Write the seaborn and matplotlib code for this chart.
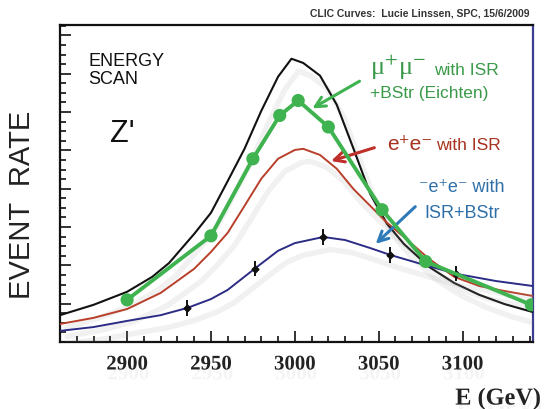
import matplotlib
matplotlib.use("Agg")
import matplotlib.pyplot as plt
import matplotlib.patheffects as pe
from matplotlib.ticker import MultipleLocator
import seaborn as sns

# --- DATA (event rate in arbitrary units) ---
black_e = [2860, 2880, 2900, 2915, 2925, 2940, 2950, 2960, 2970, 2980, 2990, 2998,
           3005, 3015, 3025, 3035, 3045, 3055, 3065, 3080, 3095, 3110, 3125, 3142]
black_rate = [7.0, 9.7, 13.1, 17.0, 20.6, 28.2, 33.7, 42.0, 50.4, 60.3, 69.2, 73.9,
              72.8, 69.5, 61.9, 50.4, 38.6, 30.8, 25.6, 19.6, 15.4, 12.3, 9.9, 7.8]

red_e = [2860, 2880, 2900, 2920, 2940, 2950, 2960, 2970, 2980, 2990, 3000, 3005,
         3015, 3025, 3035, 3045, 3055, 3065, 3080, 3095, 3110, 3125, 3142]
red_rate = [4.7, 6.3, 8.6, 12.8, 19.1, 23.5, 28.5, 35.5, 42.6, 47.8, 50.1, 50.4,
            48.8, 45.2, 39.9, 35.5, 31.1, 27.4, 21.7, 17.0, 14.6, 13.3, 12.0]

blue_e = [2860, 2880, 2900, 2920, 2936, 2950, 2960, 2976, 2990, 3000, 3017, 3030,
          3045, 3057, 3075, 3096, 3120, 3142]
blue_rate = [2.9, 3.9, 5.5, 7.0, 8.9, 11.2, 13.6, 19.1, 23.8, 25.8, 27.4, 26.6,
             24.5, 22.7, 20.4, 17.8, 15.9, 14.6]

# measured points on the blue curve
pts_e = [2936, 2976, 3017, 3057, 3096]
pts_rate = [8.9, 19.1, 27.4, 22.7, 17.8]
pts_err = [2.0, 2.0, 2.0, 2.0, 2.0]

# mu+mu- with ISR + beamstrahlung (Eichten)
green_e = [2900, 2950, 2975, 2991, 3002, 3020, 3052, 3078, 3141]
green_rate = [11.0, 27.7, 47.8, 59.1, 63.0, 56.1, 34.5, 21.0, 9.7]

BLACK = '#111111'
RED = '#b8402a'
BLUE = '#2c2c86'
GREEN = '#3fb34f'
TXT_GREEN = '#3a9a4a'
TXT_RED = '#a8321f'
TXT_BLUE = '#2f6fa8'

sns.set_style("white")
plt.rcParams['font.family'] = ['Liberation Sans', 'DejaVu Sans']
plt.rcParams['mathtext.fontset'] = 'stix'

fig = plt.figure(figsize=(5.55, 4.1), dpi=100)
ax = fig.add_axes([60 / 555, 67 / 410, 473 / 555, 317 / 410])

shadow = [pe.SimpleLineShadow(offset=(5, -9), shadow_color='#999999', alpha=0.13, linewidth=4),
          pe.Normal()]

sns.lineplot(x=black_e, y=black_rate, ax=ax, color=BLACK, lw=1.5, sort=False,
             path_effects=shadow, zorder=3)
sns.lineplot(x=red_e, y=red_rate, ax=ax, color=RED, lw=1.4, sort=False,
             path_effects=shadow, zorder=3)
sns.lineplot(x=blue_e, y=blue_rate, ax=ax, color=BLUE, lw=1.4, sort=False,
             path_effects=shadow, zorder=3)
ax.errorbar(pts_e, pts_rate, yerr=pts_err, fmt='D', ms=3.5, color=BLACK,
            elinewidth=1.4, capsize=0, zorder=4)
sns.lineplot(x=green_e, y=green_rate, ax=ax, color=GREEN, lw=2.8, sort=False, zorder=5)
sns.scatterplot(x=green_e, y=green_rate, ax=ax, color=GREEN, s=90, edgecolor='none',
                zorder=6)

ax.set_xlim(2860, 3142)
ax.set_ylim(0, 82.7)
ax.set_xticks([2900, 2950, 3000, 3050, 3100])
ax.xaxis.set_minor_locator(MultipleLocator(10))
ax.yaxis.set_major_locator(MultipleLocator(10))
ax.yaxis.set_minor_locator(MultipleLocator(2.5))
ax.tick_params(axis='both', which='both', direction='in', color=BLACK, width=1.2,
               left=True, bottom=True, top=False, right=False)
ax.tick_params(axis='both', which='major', length=8)
ax.tick_params(axis='both', which='minor', length=4.5)
ax.tick_params(axis='x', which='major', pad=9)
ax.tick_params(axis='y', which='both', labelleft=False)
ax.set_xlabel('')
ax.set_ylabel('')

for lbl in ax.get_xticklabels():
    lbl.set_fontfamily('Liberation Serif')
    lbl.set_fontweight('bold')
    lbl.set_fontsize(15)
    lbl.set_color('#222222')
    lbl.set_path_effects([pe.SimplePatchShadow(offset=(1, -7), shadow_rgbFace='#aaaaaa', alpha=0.12),
                          pe.Normal()])

for side in ['left', 'top', 'bottom']:
    ax.spines[side].set_color(BLACK)
    ax.spines[side].set_linewidth(1.6)
ax.spines['right'].set_color('#3c3c90')
ax.spines['right'].set_linewidth(1.6)

# labels and notes
fig.text(530 / 555, 1 - 14 / 410, 'CLIC Curves:  Lucie Linssen, SPC, 15/6/2009',
         ha='right', va='center', fontsize=7.5, fontweight='bold', color='#333333')
fig.text(22 / 555, 0.5, 'EVENT  RATE', rotation=90, ha='center', va='center',
         fontsize=21, color='#222222')
fig.text(541 / 555, 1 - 400 / 410, 'E (GeV)', ha='right', va='center',
         fontsize=17.5, fontweight='bold', family='Liberation Serif', color='#222222',
         path_effects=[pe.SimplePatchShadow(offset=(1, -6), shadow_rgbFace='#aaaaaa', alpha=0.12),
                       pe.Normal()])

ax.text(0.06, 0.86, 'ENERGY\nSCAN', transform=ax.transAxes, ha='left', va='center',
        fontsize=13, color='#111111', linespacing=1.1)
ax.text(0.105, 0.66, "Z'", transform=ax.transAxes, ha='left', va='center',
        fontsize=22, color='#111111')

# green annotation
ax.text(3045, 71.8, r'μ$^{+}$μ$^{-}$', ha='left', va='center', fontsize=19, color=TXT_GREEN,
        family=['Liberation Serif', 'DejaVu Serif'])
ax.text(3083, 71.2, 'with ISR', ha='left', va='center', fontsize=12.5, color=TXT_GREEN)
ax.text(3045, 65.2, '+BStr (Eichten)', ha='left', va='center', fontsize=12.5, color=TXT_GREEN)
ax.annotate('', xy=(3009, 60.6), xytext=(3040, 68.4),
            arrowprops=dict(arrowstyle='->', color=GREEN, lw=2.2, mutation_scale=18))

# red annotation
ax.text(3055, 51.9, 'e⁺e⁻', ha='left', va='center', fontsize=15, color=TXT_RED)
ax.text(3084, 51.6, 'with ISR', ha='left', va='center', fontsize=12.5, color=TXT_RED)
ax.annotate('', xy=(3020, 47.0), xytext=(3049, 50.9),
            arrowprops=dict(arrowstyle='->', color='#c0302a', lw=2.2, mutation_scale=18))

# blue annotation
ax.text(3074, 40.5, '⁻e⁺e⁻ with', ha='left', va='center', fontsize=13, color=TXT_BLUE)
ax.text(3077, 33.9, 'ISR+BStr', ha='left', va='center', fontsize=13, color=TXT_BLUE)
ax.annotate('', xy=(3047, 25.1), xytext=(3073, 35.8),
            arrowprops=dict(arrowstyle='->', color='#2f7ab8', lw=2.2, mutation_scale=18))

fig.savefig('out.png', dpi=100)
